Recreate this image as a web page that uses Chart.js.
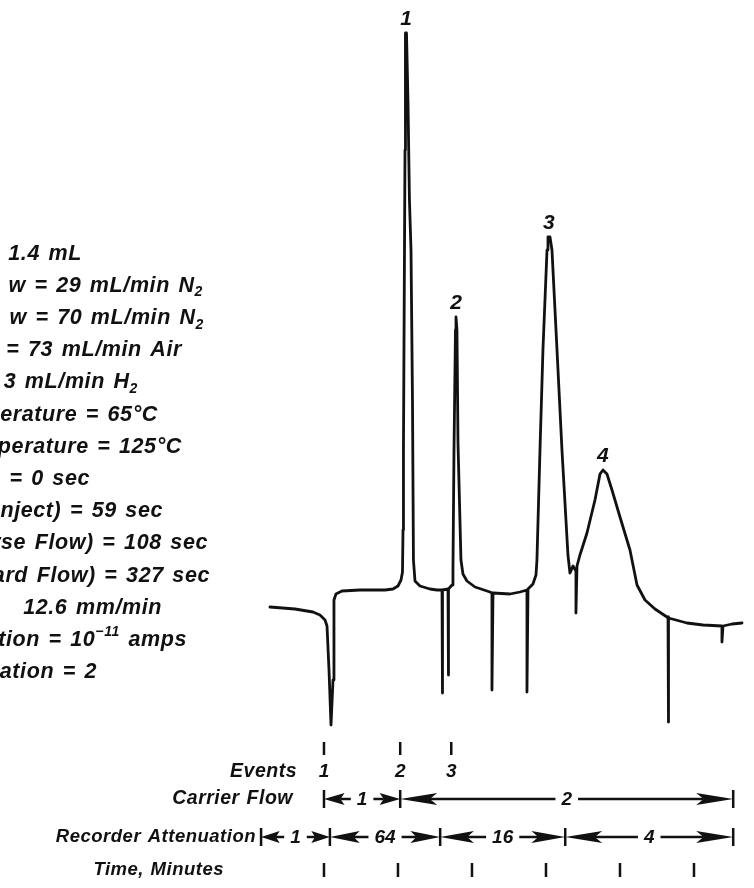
<!DOCTYPE html>
<html>
<head>
<meta charset="utf-8">
<script src="https://cdn.jsdelivr.net/npm/chart.js@4.4.1/dist/chart.umd.min.js"></script>
<style>
html,body{margin:0;padding:0;background:#fff;}
#wrap{position:relative;width:754px;height:888px;}
</style>
</head>
<body>
<div id="wrap"><canvas id="c"></canvas></div>
<script>
// ---- chromatogram trace: time (minutes after event 1) and detector signal (arbitrary units)
const timeMin = [-0.730,-0.392,-0.149,-0.054,0.014,0.041,0.068,0.095,0.108,0.122,0.135,0.162,0.243,0.486,0.824,0.932,1.000,1.041,1.061,1.068,1.074,1.088,1.095,1.101,1.115,1.135,1.155,1.176,1.196,1.209,1.230,1.297,1.432,1.527,1.595,1.595,1.608,1.676,1.676,1.689,1.730,1.743,1.757,1.777,1.784,1.797,1.811,1.851,1.878,1.932,2.041,2.243,2.270,2.270,2.284,2.514,2.649,2.743,2.743,2.757,2.824,2.865,2.878,2.919,2.959,3.014,3.027,3.054,3.081,3.149,3.216,3.297,3.324,3.365,3.405,3.405,3.419,3.459,3.554,3.662,3.730,3.770,3.824,3.892,4.000,4.135,4.230,4.338,4.473,4.635,4.649,4.649,4.662,4.905,5.122,5.378,5.378,5.392,5.514,5.649];
const signal = [0,-0.4,-1,-1.6,-2.6,-3.8,-12.6,-23.6,-23.6,-14.6,1.4,2.6,3.2,3.4,3.4,3.6,4.2,5.4,7,15.4,31.4,71.4,91.4,114.8,114.8,101.4,81.4,71.4,41.4,9.4,5.2,4.2,3.6,3.4,3.4,-17.2,3.4,3.6,-13.6,3.6,4.4,7.4,31.4,55.4,58,55.4,32.8,9.4,6.6,5.2,4,3,2.8,-16.6,2.8,2.6,3,3.4,-17,3.6,4.6,6.4,9.4,31.4,51.4,71.4,74,74,71.4,51.4,31.4,10.4,6.8,8.2,7.2,-1.2,8.2,10.4,14.8,21.4,26.6,27.4,26.6,23.4,18,11.4,4.4,1.4,-0.4,-2,-2,-23,-2.2,-3.2,-3.6,-3.8,-7,-3.8,-3.4,-3.2];

// ---- peak labels
const peakLabels = ['1','2','3','4'];
const peakTimes = [1.108, 1.784, 3.04, 3.77];
const peakSignals = [114.8, 58, 74, 27.4];

// ---- operating conditions (left margin, cut off at the page edge)
const conditionLines = [
  '1.4 mL',
  'w = 29 mL/min N\u2082',
  'w = 70 mL/min N\u2082',
  '= 73 mL/min Air',
  '3 mL/min H\u2082',
  'erature = 65\u00B0C',
  'perature = 125\u00B0C',
  ') = 0 sec',
  'Inject) = 59 sec',
  'rse Flow) = 108 sec',
  'ard Flow) = 327 sec',
  '12.6 mm/min',
  'tion = 10\u207B\u00B9\u00B9 amps',
  'uation = 2'
];

// ---- bottom annotation rows
const rowTitles = ['Events', 'Carrier Flow', 'Recorder Attenuation', 'Time, Minutes'];
const eventLabels = ['1','2','3'];
const eventTimes = [0, 1.03, 1.72];
const carrierLabels = ['1','2'];
const carrierBounds = [0, 1.03, 5.53];
const attenuationLabels = ['1','64','16','4'];
const attenuationBounds = [-0.85, 0.08, 1.57, 3.26, 5.53];
const timeTicks = [0,1,2,3,4,5];

// ---- layout (pixels)
const INK = '#111';
const FONT_FAMILY = '"Liberation Sans", Arial, Helvetica, sans-serif';
const condRight = [82,203,204,182,138,158,182,90,163,208,210,162,187,97];
const condTop = 252, condStep = 32.2;
const titleRight = [297, 293, 256, 224];
const titleSize = [19.5, 19.5, 18.5, 18.5];
const rowY = {eventTick:[742,755], eventNum:772, carrier:799, atten:837, timeTick:[863,877]};

const SUB = {'\u2082':'2'};
const SUP = {'\u207B':'\u2212','\u00B9':'1'};
function fontOf(size){ return 'italic bold ' + size + 'px ' + FONT_FAMILY; }
function setSpacing(ctx, ls, ws){
  try { ctx.letterSpacing = ls + 'px'; } catch(e) {}
  try { ctx.wordSpacing = ws + 'px'; } catch(e) {}
}

function drawRichRight(ctx, str, xRight, yBase, size){
  const runs = [];
  for (const ch of str){
    let mode = 'n', c = ch;
    if (SUB[ch]) { mode = 'sub'; c = SUB[ch]; }
    else if (SUP[ch]) { mode = 'sup'; c = SUP[ch]; }
    if (runs.length && runs[runs.length-1].mode === mode) runs[runs.length-1].text += c;
    else runs.push({mode, text:c});
  }
  let total = 0;
  runs.forEach(r => { ctx.font = fontOf(r.mode==='n'?size:Math.round(size*0.66)); r.w = ctx.measureText(r.text).width; total += r.w; });
  let x = xRight - total;
  runs.forEach(r => {
    ctx.font = fontOf(r.mode==='n'?size:Math.round(size*0.66));
    const dy = r.mode==='sub' ? size*0.22 : (r.mode==='sup' ? -size*0.45 : 0);
    ctx.fillText(r.text, x, yBase + dy);
    x += r.w;
  });
}

function arrowHead(ctx, tipX, y, dir, L, h){
  ctx.beginPath();
  ctx.moveTo(tipX, y);
  ctx.lineTo(tipX + dir*L, y - h);
  ctx.lineTo(tipX + dir*L*0.8, y);
  ctx.lineTo(tipX + dir*L, y + h);
  ctx.closePath();
  ctx.fill();
}

function drawSpanRow(ctx, xs, labels, y, size){
  ctx.lineWidth = 2.5;
  ctx.strokeStyle = INK; ctx.fillStyle = INK;
  xs.forEach(x => { ctx.beginPath(); ctx.moveTo(x, y-9); ctx.lineTo(x, y+9); ctx.stroke(); });
  for (let i = 0; i < labels.length; i++){
    const a = xs[i], b = xs[i+1];
    const w = b - a;
    const L = Math.min(37, w*0.27), h = 6;
    ctx.font = fontOf(size);
    const tw = ctx.measureText(labels[i]).width;
    const mid = (a+b)/2;
    const gap = 6;
    arrowHead(ctx, a, y, 1, L, h);
    arrowHead(ctx, b, y, -1, L, h);
    const l1 = a + L*0.8, l2 = mid - tw/2 - gap;
    if (l2 > l1){ ctx.beginPath(); ctx.moveTo(l1,y); ctx.lineTo(l2,y); ctx.stroke(); }
    const r1 = mid + tw/2 + gap, r2 = b - L*0.8;
    if (r2 > r1){ ctx.beginPath(); ctx.moveTo(r1,y); ctx.lineTo(r2,y); ctx.stroke(); }
    ctx.textAlign = 'center'; ctx.textBaseline = 'middle';
    ctx.fillText(labels[i], mid, y+1);
  }
}

const annotationPlugin = {
  id: 'chromAnnotations',
  afterDraw(chart){
    const ctx = chart.ctx;
    const xs = chart.scales.x, ys = chart.scales.y;
    ctx.save();
    ctx.fillStyle = INK; ctx.strokeStyle = INK;

    // operating conditions
    setSpacing(ctx, 0.6, 2);
    ctx.textAlign = 'left'; ctx.textBaseline = 'alphabetic';
    conditionLines.forEach((s, i) => {
      drawRichRight(ctx, s, condRight[i], condTop + condStep*i + 7.5, 21.5);
    });

    // peak labels
    setSpacing(ctx, 0, 0);
    ctx.font = fontOf(21);
    ctx.textAlign = 'center'; ctx.textBaseline = 'alphabetic';
    peakLabels.forEach((lab, i) => {
      const px = xs.getPixelForValue(peakTimes[i]);
      const py = ys.getPixelForValue(peakSignals[i]);
      ctx.fillText(lab, px, py - 8);
    });

    // row titles
    setSpacing(ctx, 0.5, 1);
    ctx.textAlign = 'right'; ctx.textBaseline = 'middle';
    const titleY = [rowY.eventNum, rowY.carrier, rowY.atten, (rowY.timeTick[0]+rowY.timeTick[1])/2];
    rowTitles.forEach((t, i) => { ctx.font = fontOf(titleSize[i]); ctx.fillText(t, titleRight[i], titleY[i]); });

    // events
    setSpacing(ctx, 0, 0);
    ctx.font = fontOf(19);
    ctx.lineWidth = 2.5;
    ctx.textAlign = 'center';
    eventTimes.forEach((t, i) => {
      const px = xs.getPixelForValue(t);
      ctx.beginPath(); ctx.moveTo(px, rowY.eventTick[0]); ctx.lineTo(px, rowY.eventTick[1]); ctx.stroke();
      ctx.fillText(eventLabels[i], px, rowY.eventNum);
    });

    // carrier flow & recorder attenuation spans
    drawSpanRow(ctx, carrierBounds.map(t => xs.getPixelForValue(t)), carrierLabels, rowY.carrier, 19);
    drawSpanRow(ctx, attenuationBounds.map(t => xs.getPixelForValue(t)), attenuationLabels, rowY.atten, 19);

    // time ticks
    ctx.lineWidth = 2.5;
    timeTicks.forEach(t => {
      const px = xs.getPixelForValue(t);
      ctx.beginPath(); ctx.moveTo(px, rowY.timeTick[0]); ctx.lineTo(px, rowY.timeTick[1]); ctx.stroke();
    });
    ctx.restore();
  }
};

new Chart(document.getElementById('c'), {
  type: 'line',
  data: {
    datasets: [{
      data: timeMin.map((t, i) => ({x: t, y: signal[i]})),
      borderColor: INK,
      borderWidth: 2.8,
      pointRadius: 0,
      tension: 0,
      fill: false,
      borderJoinStyle: 'round',
      borderCapStyle: 'round'
    }]
  },
  options: {
    responsive: true,
    maintainAspectRatio: false,
    animation: false,
    layout: {padding: 0},
    plugins: {legend: {display: false}, tooltip: {enabled: false}},
    scales: {
      x: {type: 'linear', min: -4.378, max: 5.811, display: false},
      y: {type: 'linear', min: -56.2, max: 121.4, display: false}
    }
  },
  plugins: [annotationPlugin]
});
</script>
</body>
</html>
